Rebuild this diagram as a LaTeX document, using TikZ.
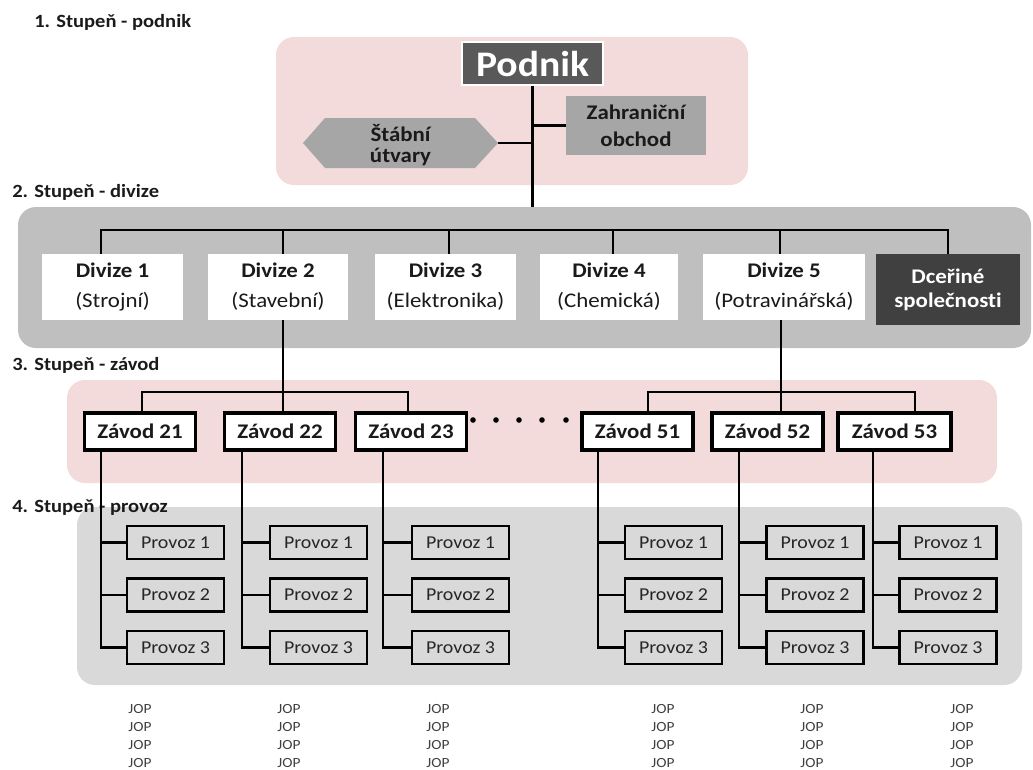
\documentclass[tikz,border=0pt]{standalone}
\usepackage{fontspec}
\setmainfont{Carlito}[FakeStretch=1.1, Ligatures=NoCommon]
\newdimen\pxu \pxu=0.75pt
\definecolor{pinkbg}{HTML}{F3DBDB}
\definecolor{graytwo}{HTML}{BFBFBF}
\definecolor{grayfour}{HTML}{D9D9D9}
\definecolor{podfill}{HTML}{595959}
\definecolor{midgray}{HTML}{A6A6A6}
\definecolor{darkfill}{HTML}{404040}
\definecolor{txt}{HTML}{1A1A1A}
\tikzset{
  conn/.style={line width=2.8\pxu, draw=black},
  band/.style={rounded corners=18\pxu, draw=none},
  lvl/.style={anchor=base west, inner sep=0, text=txt, font=\bfseries\fontsize{14}{16}\selectfont},
  divbox/.style={fill=white, draw=none, minimum height=66\pxu, inner sep=0, align=center, text=txt, font=\fontsize{15.6}{22.5}\selectfont},
  zavbox/.style={fill=white, draw=black, line width=3.2\pxu, minimum width=111\pxu, minimum height=37\pxu, inner sep=0, text=txt, font=\bfseries\fontsize{15.6}{18}\selectfont},
  provbox/.style={fill=grayfour, draw=black, line width=2.8\pxu, minimum width=97\pxu, minimum height=33\pxu, inner sep=0, text=black!85, font=\fontsize{13.6}{16}\selectfont},
  jop/.style={align=center, inner sep=0, text=darkfill, font=\fontsize{10.5}{13.5}\selectfont},
}
\begin{document}
\begin{tikzpicture}[x=0.75pt, y=-0.75pt]
\useasboundingbox (0,0) rectangle (1033,769);
% background bands
\fill[pinkbg, band] (276,37) rectangle (748,185);
\fill[graytwo, band] (18,207) rectangle (1031,348);
\fill[pinkbg, band] (67,380) rectangle (997,483);
\fill[grayfour, band] (77,507) rectangle (1022,685);
% level titles
\node[lvl] (t1) at (34,27) {1. Stupeň - podnik};
\node[lvl] (t2) at (12,197) {2. Stupeň - divize};
\node[lvl] (t3) at (12,370) {3. Stupeň - závod};
\node[lvl] (t4) at (12,512) {4. Stupeň - provoz};
% level 1
\node[fill=podfill, draw=white, line width=1.5\pxu, minimum width=141\pxu, minimum height=43\pxu, inner sep=0, text=white, font=\bfseries\fontsize{27}{30}\selectfont] (podnik) at (532.5,63.5) {Podnik};
\node[fill=midgray, minimum width=140\pxu, minimum height=59\pxu, inner sep=0, align=center, text=txt, font=\bfseries\fontsize{15.6}{20}\selectfont] (zahr) at (636,125.5) {Zahraniční\\obchod};
\fill[midgray] (303,143) -- (325,118) -- (475,118) -- (498,143) -- (475,168) -- (325,168) -- cycle;
\node[align=center, inner sep=0, text=txt, font=\bfseries\fontsize{15.6}{16}\selectfont] (stab) at (400.5,145) {Štábní\\útvary};
\coordinate (stabE) at (498,143);
\coordinate (podtail) at (532.5,207);
\draw[conn] (podnik.south) -- (podtail);
\draw[conn] (zahr.west) -- (zahr.west -| podnik.south);
\draw[conn] (stabE) -- (stabE -| podnik.south);
% level 2
\node[divbox, minimum width=141\pxu] (d1) at (112.5,287) {\textbf{Divize 1}\\(Strojní)};
\node[divbox, minimum width=140\pxu] (d2) at (278,287) {\textbf{Divize 2}\\(Stavební)};
\node[divbox, minimum width=141\pxu] (d3) at (445.5,287) {\textbf{Divize 3}\\(Elektronika)};
\node[divbox, minimum width=138\pxu] (d4) at (609,287) {\textbf{Divize 4}\\(Chemická)};
\node[divbox, minimum width=162\pxu] (d5) at (784,287) {\textbf{Divize 5}\\(Potravinářská)};
\node[fill=darkfill, minimum width=144\pxu, minimum height=71\pxu, inner sep=0, align=center, text=white, font=\bfseries\fontsize{15.6}{18}\selectfont] (dc) at (948,289.5) {Dceřiné\\společnosti};
\coordinate (b1) at (101,230);
\coordinate (b2) at (283,230);
\coordinate (b3) at (449,230);
\coordinate (b4) at (613,230);
\coordinate (b5) at (780,230);
\coordinate (b6) at (948,230);
\draw[conn] (b1 |- d1.north) -- (b1) -- (b6) -- (dc.north);
\draw[conn] (b2) -- (b2 |- d2.north);
\draw[conn] (b3) -- (b3 |- d3.north);
\draw[conn] (b4) -- (b4 |- d4.north);
\draw[conn] (b5) -- (b5 |- d5.north);
% level 3
\node[zavbox] (z21) at (140,431.5) {Závod 21};
\node[zavbox] (z22) at (280,431.5) {Závod 22};
\node[zavbox] (z23) at (411,431.5) {Závod 23};
\node[zavbox] (z51) at (637.5,431.5) {Závod 51};
\node[zavbox] (z52) at (767.5,431.5) {Závod 52};
\node[zavbox, minimum width=113\pxu] (z53) at (894.5,431.5) {Závod 53};
\coordinate (za) at (142,392);
\coordinate (zb) at (283,392);
\coordinate (zc) at (408,392);
\coordinate (zd) at (648,392);
\coordinate (ze) at (781,392);
\coordinate (zf) at (915,392);
\draw[conn] (za |- z21.north) -- (za) -- (zc) -- (zc |- z23.north);
\draw[conn] (zb |- d2.south) -- (zb |- z22.north);
\draw[conn] (zd |- z51.north) -- (zd) -- (zf) -- (zf |- z53.north);
\draw[conn] (ze |- d5.south) -- (ze |- z52.north);
\foreach \dx in {473,496,519,542,566} \fill[black] (\dx,420) circle (2.8);
% level 4
\foreach \g/\tx/\px/\jx in {z21/101/175.5/140, z22/242/318.5/289, z23/383/460.5/438, z51/598/673.5/663, z52/739/815/812, z53/873/948/962}{
  \node[provbox] (\g p1) at (\px,542.5) {Provoz 1};
  \node[provbox] (\g p2) at (\px,595) {Provoz 2};
  \node[provbox] (\g p3) at (\px,647.5) {Provoz 3};
  \coordinate (\g t) at (\tx,450);
  \draw[conn] (\g t) |- (\g p3.west);
  \draw[conn] (\g t |- \g p1.west) -- (\g p1.west);
  \draw[conn] (\g t |- \g p2.west) -- (\g p2.west);
  \node[jop] (\g j) at (\jx,736) {JOP\\JOP\\JOP\\JOP};
}
\end{tikzpicture}
\end{document}
